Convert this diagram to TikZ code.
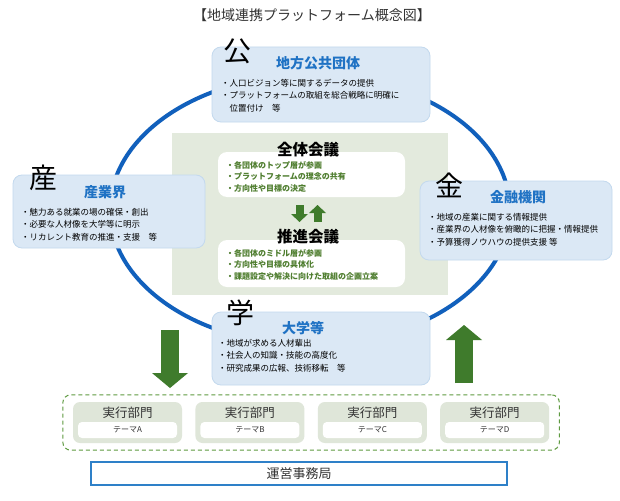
\documentclass[tikz,border=0pt]{standalone}
\usepackage{fontspec}
\setmainfont{Noto Sans CJK JP}
\usetikzlibrary{positioning,fit,arrows.meta}

\definecolor{titlegray}{HTML}{333333}
\definecolor{ringblue}{HTML}{1160BC}
\definecolor{headblue}{HTML}{1F72C4}
\definecolor{boxfill}{HTML}{DBE8F5}
\definecolor{boxline}{HTML}{C3D9EE}
\definecolor{sage}{HTML}{E3EADD}
\definecolor{deptfill}{HTML}{DFE6D9}
\definecolor{leafgreen}{HTML}{3F7B2C}
\definecolor{textgreen}{HTML}{4E7D2E}
\definecolor{dashgreen}{HTML}{5E9A40}
\definecolor{officeblue}{HTML}{2E80C8}

\tikzset{
  actor/.style={rectangle, rounded corners=9pt, fill=boxfill, draw=boxline, line width=0.8pt, inner sep=0pt},
  bigchar/.style={font=\fontsize{28}{28}\selectfont},
  actorname/.style={font=\fontsize{14}{14}\selectfont\bfseries, text=headblue},
  items/.style={anchor=north west, align=left, inner sep=0pt, text=black, font=\fontsize{8.5}{12.5}\selectfont},
  meetbox/.style={rectangle, rounded corners=9pt, fill=white, minimum width=187pt, inner sep=0pt},
  meetname/.style={font=\fontsize{15.5}{15.5}\selectfont\bfseries},
  meetitems/.style={items, text=textgreen, font=\fontsize{8}{11.5}\selectfont\bfseries},
  dept/.style={rectangle, rounded corners=7pt, fill=deptfill, minimum width=109pt, minimum height=41pt, inner sep=0pt},
  deptname/.style={font=\fontsize{12.5}{12.5}\selectfont, text=titlegray},
  theme/.style={rectangle, rounded corners=4pt, fill=white, minimum width=99pt, minimum height=16pt, inner sep=0pt, font=\fontsize{8}{8}\selectfont, text=titlegray},
  fatarrow/.style={draw=leafgreen, line width=18pt, -{Triangle[width=36pt, length=15pt, line width=0pt]}},
  thinarrow/.style={draw=leafgreen, line width=8pt, -{Triangle[width=17pt, length=8pt, line width=0pt]}}
}

\begin{document}
\begin{tikzpicture}[x=1pt, y=-1pt]
  \useasboundingbox (0,0) rectangle (620,500);
  \fill[white] (0,0) rectangle (620,500);

  \node[font=\fontsize{14}{14}\selectfont, text=titlegray] (title) at (312,15) {【地域連携プラットフォーム概念図】};

  % ring
  \draw[ringblue, line width=4pt] (310,210) ellipse [x radius=200pt, y radius=135pt];

  % councils
  \node[fill=sage, minimum width=276pt, minimum height=162pt, inner sep=0pt] (council) at (310,214) {};
  \node[meetbox, minimum height=45pt] (zentai) at (311.5,174.5) {};
  \node[meetname] (zentainame) at (308,150) {全体会議};
  \node[meetitems] (zentaiitems) at (226,161) {・各団体のトップ層が参画\\・プラットフォームの理念の共有\\・方向性や目標の決定};
  \node[meetbox, minimum height=47pt] (suishin) at (311.5,263.5) {};
  \node[meetname] (suishinname) at (308,237) {推進会議};
  \node[meetitems] (suishinitems) at (226,249) {・各団体のミドル層が参画\\・方向性や目標の具体化\\・課題設定や解決に向けた取組の企画立案};

  \coordinate (downa) at (299.5,205);
  \coordinate (downb) at (299.5,222);
  \coordinate (upa) at (317.5,222);
  \coordinate (upb) at (317.5,205);
  \draw[thinarrow] (downa) -- (downb);
  \draw[thinarrow] (upa) -- (upb);

  % actors
  \node[actor, minimum width=218pt, minimum height=75pt] (kou) at (321,84.5) {};
  \node[bigchar] (kouchar) at (237,51) {公};
  \node[actorname] (kouname) at (318,63) {地方公共団体};
  \node[items] (kouitems) at (221,78.7) {・人口ビジョン等に関するデータの提供\\・プラットフォームの取組を総合戦略に明確に\\　位置付け　等};

  \node[actor, minimum width=192pt, minimum height=73pt] (san) at (109,211.5) {};
  \node[bigchar] (sanchar) at (43,178) {産};
  \node[actorname] (sanname) at (105,192) {産業界};
  \node[items] (sanitems) at (21,207.7) {・魅力ある就業の場の確保・創出\\・必要な人材像を大学等に明示\\・リカレント教育の推進・支援　等};

  \node[actor, minimum width=192pt, minimum height=79pt] (kin) at (516,220.5) {};
  \node[bigchar] (kinchar) at (449,185) {金};
  \node[actorname] (kinname) at (518,197) {金融機関};
  \node[items] (kinitems) at (428,212.7) {・地域の産業に関する情報提供\\・産業界の人材像を俯瞰的に把握・情報提供\\・予算獲得ノウハウの提供支援 等};

  \node[actor, minimum width=218pt, minimum height=73pt] (gaku) at (321,348.5) {};
  \node[bigchar] (gakuchar) at (240,313) {学};
  \node[actorname] (gakuname) at (303,328) {大学等};
  \node[items] (gakuitems) at (218,338.7) {・地域が求める人材輩出\\・社会人の知識・技能の高度化\\・研究成果の広報、技術移転　等};

  % departments
  \node[dept] (deptA) at (127.5,422.5) {};
  \node[dept, right=13pt of deptA] (deptB) {};
  \node[dept, right=13pt of deptB] (deptC) {};
  \node[dept, right=13pt of deptC] (deptD) {};
  \node[deptname] (deptAname) at ([yshift=9.5pt]deptA.center) {実行部門};
  \node[deptname] (deptBname) at ([yshift=9.5pt]deptB.center) {実行部門};
  \node[deptname] (deptCname) at ([yshift=9.5pt]deptC.center) {実行部門};
  \node[deptname] (deptDname) at ([yshift=9.5pt]deptD.center) {実行部門};
  \node[theme] (themeA) at ([yshift=-7.5pt]deptA.center) {テーマA};
  \node[theme] (themeB) at ([yshift=-7.5pt]deptB.center) {テーマB};
  \node[theme] (themeC) at ([yshift=-7.5pt]deptC.center) {テーマC};
  \node[theme] (themeD) at ([yshift=-7.5pt]deptD.center) {テーマD};
  \node[draw=dashgreen, dashed, dash pattern=on 4pt off 3pt, line width=1pt, rounded corners=8pt,
        inner xsep=10pt, inner ysep=7pt, fit=(deptA)(deptD)] (units) {};

  \coordinate (fatdowna) at (170,330);
  \coordinate (fatdownb) at (170,388);
  \coordinate (fatupa) at (464,383);
  \coordinate (fatupb) at (464,325);
  \draw[fatarrow] (fatdowna) -- (fatdownb);
  \draw[fatarrow] (fatupa) -- (fatupb);

  \node[draw=officeblue, line width=1.2pt, fill=white, minimum width=416pt, minimum height=23pt, inner sep=0pt,
        font=\fontsize{13}{13}\selectfont, text=titlegray] (office) at (299,473.5) {運営事務局};
\end{tikzpicture}
\end{document}
